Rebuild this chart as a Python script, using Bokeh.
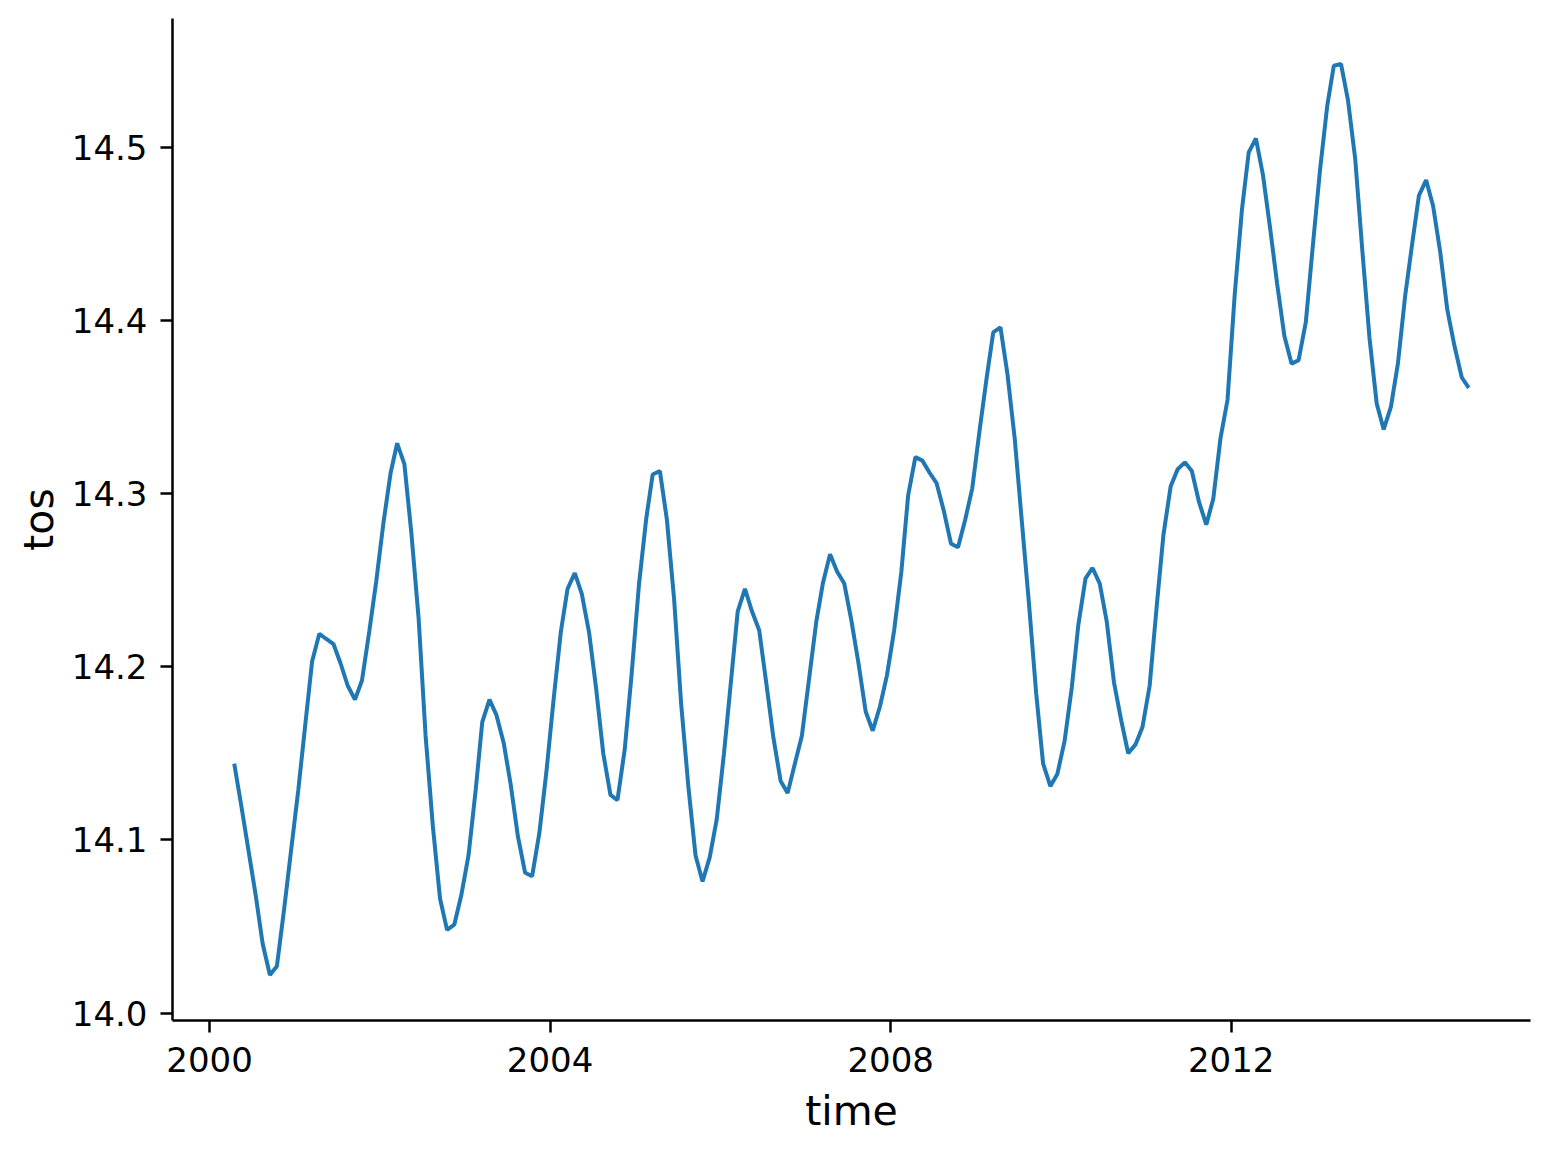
import pandas as pd
from bokeh.plotting import figure
from bokeh.models import (FixedTicker, DatetimeTickFormatter, Range1d,
                          PrintfTickFormatter, ColumnDataSource)
from bokeh.embed import file_html
from bokeh.resources import INLINE

# ---- data -------------------------------------------------------------
first_month = "2000-04-01"          # monthly series, mid-month stamps
tos = [
    14.144, 14.120, 14.094, 14.069, 14.040, 14.022, 14.027, 14.060, 14.094, 14.129,
    14.168, 14.203, 14.219, 14.216, 14.213, 14.202, 14.189, 14.181, 14.192, 14.220,
    14.249, 14.283, 14.312, 14.329, 14.317, 14.277, 14.228, 14.160, 14.108, 14.066,
    14.048, 14.051, 14.068, 14.091, 14.129, 14.168, 14.181, 14.172, 14.156, 14.132,
    14.102, 14.081, 14.079, 14.104, 14.139, 14.181, 14.220, 14.245, 14.254, 14.242,
    14.220, 14.188, 14.150, 14.126, 14.123, 14.152, 14.196, 14.247, 14.285, 14.311,
    14.313, 14.285, 14.239, 14.179, 14.131, 14.091, 14.076, 14.090, 14.112, 14.150,
    14.193, 14.232, 14.245, 14.232, 14.221, 14.191, 14.159, 14.134, 14.127, 14.144,
    14.160, 14.193, 14.226, 14.248, 14.265, 14.255, 14.248, 14.227, 14.202, 14.174,
    14.163, 14.177, 14.195, 14.221, 14.255, 14.299, 14.321, 14.319, 14.312, 14.306,
    14.290, 14.271, 14.269, 14.285, 14.303, 14.336, 14.367, 14.393, 14.396, 14.369,
    14.332, 14.285, 14.237, 14.185, 14.144, 14.131, 14.138, 14.157, 14.188, 14.224,
    14.251, 14.257, 14.248, 14.226, 14.191, 14.169, 14.150, 14.155, 14.165, 14.189,
    14.236, 14.276, 14.304, 14.314, 14.318, 14.313, 14.295, 14.282, 14.297, 14.332,
    14.354, 14.415, 14.464, 14.497, 14.505, 14.484, 14.453, 14.421, 14.391, 14.375,
    14.377, 14.399, 14.443, 14.487, 14.524, 14.547, 14.548, 14.527, 14.493, 14.441,
    14.390, 14.352, 14.337, 14.350, 14.375, 14.414, 14.445, 14.472, 14.481, 14.466,
    14.439, 14.406, 14.385, 14.367, 14.361,
]
x_tick_years = [2000, 2004, 2008, 2012]
y_ticks = [14.0, 14.1, 14.2, 14.3, 14.4, 14.5]

time = pd.date_range(first_month, periods=len(tos), freq="MS") + pd.Timedelta(days=15)
time_ms = [t.value / 1e6 for t in time]

# matplotlib-like 5% margins
xspan = time_ms[-1] - time_ms[0]
yspan = max(tos) - min(tos)
x_range = Range1d(time_ms[0] - 0.05 * xspan, time_ms[-1] + 0.05 * xspan)
y_range = Range1d(min(tos) - 0.05 * yspan, max(tos) + 0.05 * yspan)

src = ColumnDataSource(dict(time=time_ms, tos=tos))

FONT = "DejaVu Sans"

p = figure(width=1542, height=1142, x_axis_type="datetime",
           x_range=x_range, y_range=y_range,
           output_backend="svg", toolbar_location=None,
           min_border_left=172, min_border_right=12,
           min_border_top=18, min_border_bottom=122)
p.outline_line_color = None
p.xgrid.visible = False
p.ygrid.visible = False
p.background_fill_color = "white"

p.line("time", "tos", source=src, line_color="#1f77b4", line_width=4)

tick_ms = [pd.Timestamp(f"{y}-01-01").value / 1e6 for y in x_tick_years]
p.xaxis.ticker = FixedTicker(ticks=tick_ms)
fmt = "%Y"
p.xaxis.formatter = DatetimeTickFormatter(years=fmt, months=fmt, days=fmt,
                                          hours=fmt, minutes=fmt, seconds=fmt,
                                          milliseconds=fmt, microseconds=fmt)
p.yaxis.ticker = FixedTicker(ticks=y_ticks)
p.yaxis.formatter = PrintfTickFormatter(format="%.1f")

p.xaxis.axis_label = "time"
p.yaxis.axis_label = "tos"

for ax in (p.xaxis, p.yaxis):
    ax.axis_line_color = "black"
    ax.axis_line_width = 2.5
    ax.major_tick_line_color = "black"
    ax.major_tick_line_width = 2.5
    ax.major_tick_out = 12
    ax.major_tick_in = 0
    ax.minor_tick_line_color = None
    ax.major_label_text_font = FONT
    ax.major_label_text_font_size = "34px"
    ax.major_label_text_color = "black"
    ax.axis_label_text_font = FONT
    ax.axis_label_text_font_size = "41px"
    ax.axis_label_text_font_style = "normal"
    ax.axis_label_text_color = "black"

p.yaxis.major_label_standoff = 13
p.yaxis.axis_label_standoff = 6
p.xaxis.major_label_standoff = 14
p.xaxis.axis_label_standoff = 12

open("out.html", "w").write(file_html(p, INLINE))
